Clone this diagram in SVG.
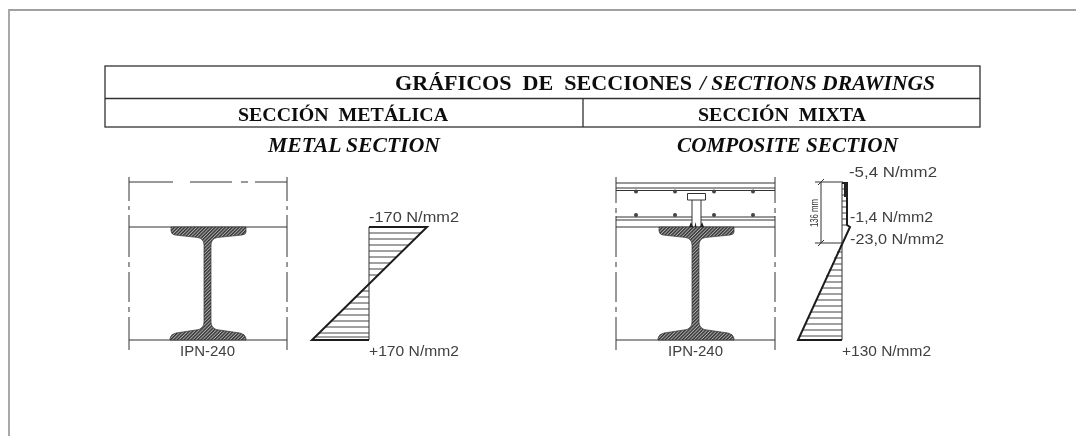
<svg xmlns="http://www.w3.org/2000/svg" width="1076" height="436" viewBox="0 0 1076 436">
<style>
.frame{fill:none;stroke:#a0a0a0;stroke-width:1.8}
.tb{fill:none;stroke:#333;stroke-width:1.3}
.s{font-family:"Liberation Serif",serif;font-weight:bold;fill:#111}
.i{font-style:italic}
.d{font-family:"Liberation Sans",Arial,sans-serif;font-size:14px;fill:#3f3f3f}
.ln{fill:none;stroke:#333;stroke-width:1}
.th{fill:none;stroke:#1c1c1c;stroke-width:2}
.hl{stroke:#444;stroke-width:1}
.steel{fill:url(#h);stroke:#333;stroke-width:.7}
.dd{stroke-dasharray:30 5 5 5}
.soft{filter:url(#soft)}
</style>
<defs>
<filter id="soft" x="-5%" y="-5%" width="110%" height="110%"><feGaussianBlur stdDeviation="0.35"/></filter>
<pattern id="h" width="2.4" height="2.4" patternUnits="userSpaceOnUse" patternTransform="rotate(-45)">
<rect width="2.4" height="2.4" fill="#b0b0b0"/><rect width="2.400" height="1.400" fill="#333"/>
</pattern>
<path id="ibeam" d="M1 227H76V232Q76 234.500 72 235L47 237.500Q41 239 41 245V322Q41 327 46 329.500L70 333Q75 334 76 338V340H0V338Q1 334 6 333L29 329.500Q34 327 34 322V245Q34 239 28 237.500L5 235Q1 234 1 231Z"/>
</defs>
<path class="frame" d="M9 436V10H1076"/>
<g id="table" class="soft">
<rect class="tb" x="105" y="66" width="875" height="61"/>
<path class="tb" d="M105 98.500H980M583 98.500V127"/>
<text class="s" x="395" y="90" font-size="21px" textLength="297" lengthAdjust="spacingAndGlyphs" xml:space="preserve">GRÁFICOS  DE  SECCIONES</text>
<text class="s i" x="700" y="90" font-size="21px" textLength="235" lengthAdjust="spacingAndGlyphs">/ SECTIONS DRAWINGS</text>
<text class="s" x="238" y="121" font-size="19px" textLength="210" lengthAdjust="spacingAndGlyphs" xml:space="preserve">SECCIÓN  METÁLICA</text>
<text class="s" x="698" y="121" font-size="19px" textLength="168" lengthAdjust="spacingAndGlyphs" xml:space="preserve">SECCIÓN  MIXTA</text>
<text class="s i" x="268" y="152" font-size="21.500px" textLength="172" lengthAdjust="spacingAndGlyphs">METAL SECTION</text>
<text class="s i" x="677" y="152" font-size="21.500px" textLength="221" lengthAdjust="spacingAndGlyphs">COMPOSITE SECTION</text>
</g>
<g id="metal-section" class="soft">
<path class="ln" d="M129 177V201M129 206V210M129 215V227M287 177V201M287 206V210M287 215V227M129 340V350M287 340V350"/>
<path class="ln dd" d="M129 227V340M287 227V340"/>
<path class="ln" d="M129 182H173M190 182H232M241 182H248M255 182H287"/>
<path class="ln" d="M129 227H287M129 340H287"/>
<use href="#ibeam" x="170" class="steel"/>
<text class="d" x="180" y="356" textLength="55" lengthAdjust="spacingAndGlyphs">IPN-240</text>
</g>
<g id="metal-stress" class="soft">
<path class="hl" d="M369 233H421M369 239H415M369 245H409M369 251H403M369 257H397M369 263H391M369 269H385M369 275H379M369 291H362M369 297H356M369 303H350M369 309H344M369 315H338M369 321H332M369 327H326M369 333H319M369 337H316"/>
<path class="ln" d="M369 227V340"/>
<path class="th" d="M369 227H427L312 340H369"/>
<text class="d" x="369" y="222" textLength="90" lengthAdjust="spacingAndGlyphs">-170 N/mm2</text>
<text class="d" x="369" y="356" textLength="90" lengthAdjust="spacingAndGlyphs">+170 N/mm2</text>
</g>
<g id="composite-section" class="soft">
<path class="ln" d="M616 177V203M616 208V213M616 216V227M775 177V203M775 208V213M775 216V227M616 340V350M775 340V350"/>
<path class="ln dd" d="M616 227V340M775 227V340"/>
<path class="ln" d="M616 183H775M616 188H775M616 190.500H775M616 217H692M701 217H775M616 220H692M701 220H775M616 227H775M616 340H775"/>
<path class="ln" d="M687.500 193.500H705.500V200H687.500ZM692 200V227M701 200V227"/>
<g fill="#444">
<circle cx="636" cy="191.500" r="2"/><circle cx="675" cy="191.500" r="2"/><circle cx="714" cy="191.500" r="2"/><circle cx="753" cy="191.500" r="2"/>
<circle cx="636" cy="215" r="2"/><circle cx="675" cy="215" r="2"/><circle cx="714" cy="215" r="2"/><circle cx="753" cy="215" r="2"/>
</g>
<use href="#ibeam" x="658" class="steel"/>
<path fill="#222" d="M689 227L691 222L693 227ZM694.500 227L695.500 222L696.500 227ZM700 227L702 222L704 227Z"/>
<text class="d" x="668" y="356" textLength="55" lengthAdjust="spacingAndGlyphs">IPN-240</text>
</g>
<g id="composite-stress" class="soft">
<path class="hl" d="M842 189H847M842 195H847M842 201H847M842 207H847M842 213H847M842 219H847M842 225H848M842 246H840M842 252H837M842 258H834M842 264H832M842 270H829M842 276H826M842 282H824M842 288H821M842 294H818M842 300H816M842 306H813M842 312H811M842 318H808M842 324H805M842 330H803M842 336H800"/>
<path class="ln" d="M842 183V340"/>
<path class="th" d="M842 183H847V225L850 227L798 340H842"/>
<rect x="844" y="183" width="4" height="14" fill="#222"/>
<path class="ln" d="M815 182H843M815 243H843M821 182V243M818 185L824 179M818 246L824 240"/>
<text font-family="Liberation Sans,sans-serif" font-size="10" fill="#333" transform="translate(818 213) rotate(-90)" text-anchor="middle" textLength="28" lengthAdjust="spacingAndGlyphs">136 mm</text>
<text class="d" x="849" y="177" textLength="88" lengthAdjust="spacingAndGlyphs">-5,4 N/mm2</text>
<text class="d" x="850" y="222" textLength="83" lengthAdjust="spacingAndGlyphs">-1,4 N/mm2</text>
<text class="d" x="850" y="244" textLength="94" lengthAdjust="spacingAndGlyphs">-23,0 N/mm2</text>
<text class="d" x="842" y="356" textLength="89" lengthAdjust="spacingAndGlyphs">+130 N/mm2</text>
</g>
</svg>
